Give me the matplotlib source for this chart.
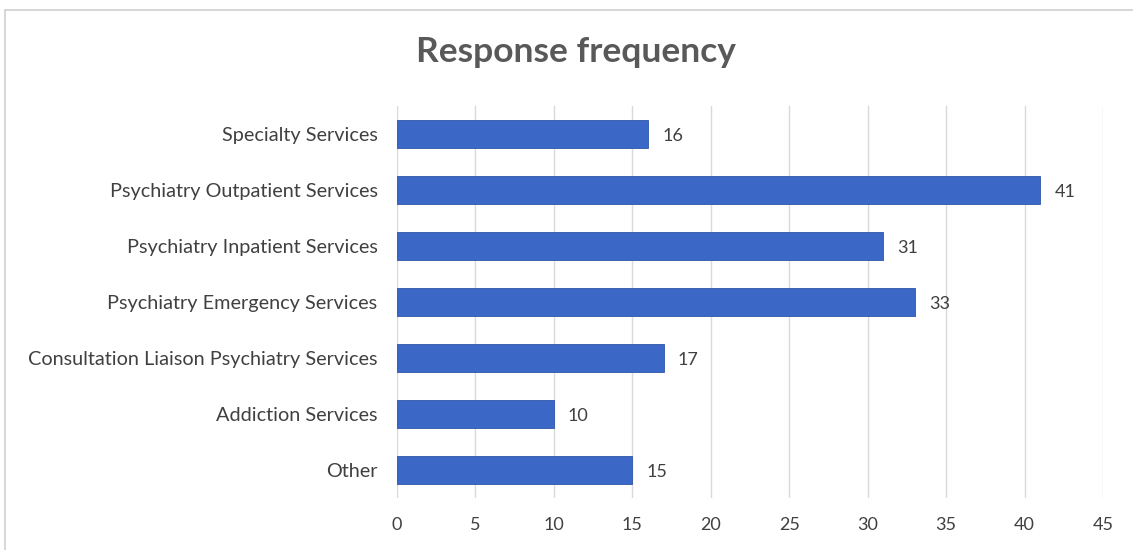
import matplotlib.pyplot as plt
import matplotlib.patches as mpatches

categories = [
    "Specialty Services",
    "Psychiatry Outpatient Services",
    "Psychiatry Inpatient Services",
    "Psychiatry Emergency Services",
    "Consultation Liaison Psychiatry Services",
    "Addiction Services",
    "Other",
]
counts = [16, 41, 31, 33, 17, 10, 15]
x_ticks = [0, 5, 10, 15, 20, 25, 30, 35, 40, 45]

plt.rcParams["font.family"] = ["Lato", "DejaVu Sans"]
TEXT = "#404040"
BAR = "#3B68C6"

fig = plt.figure(figsize=(11.33, 5.5), dpi=100)
ax = fig.add_axes([0.3504, 0.0945, 0.6231, 0.7127])

y = list(range(len(categories)))
ax.barh(y, counts, height=0.5, color=BAR, edgecolor="#2F55A8", linewidth=0.6, zorder=3)
for yi, v in zip(y, counts):
    ax.text(v + 0.9, yi + 0.03, str(v), va="center", ha="left", fontsize=13, color=TEXT)

ax.set_ylim(len(categories) - 0.5, -0.5)
ax.set_yticks(y)
ax.set_yticklabels(categories, fontsize=14.3, color=TEXT)
ax.set_xlim(0, 45)
ax.set_xticks(x_ticks)
ax.set_xticklabels([str(t) for t in x_ticks], fontsize=13, color=TEXT)
ax.tick_params(length=0)
ax.tick_params(axis="y", pad=14)
ax.tick_params(axis="x", pad=14)
ax.grid(axis="x", color="#D9D9D9", linewidth=1, zorder=0)
for s in ax.spines.values():
    s.set_visible(False)

fig.text(0.508, 0.905, "Response frequency", ha="center", va="center",
         fontsize=25.5, fontweight="bold", color="#595959")

fig.patches.append(mpatches.Rectangle((5 / 1133, -0.1), 1.2, 1 - 10 / 550 + 0.1,
                                      transform=fig.transFigure, fill=False,
                                      edgecolor="#D0D0D0", linewidth=1.2))

fig.savefig("out.png", dpi=100)
